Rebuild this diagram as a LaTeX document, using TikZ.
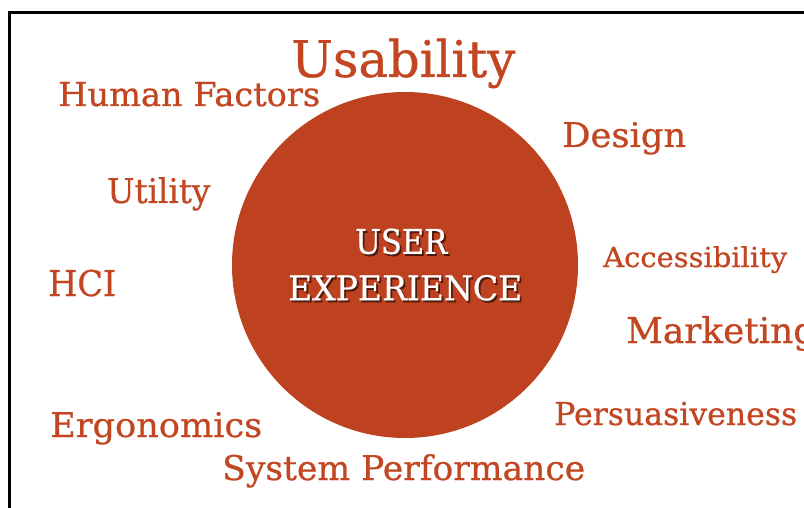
\documentclass[tikz,border=0pt]{standalone}
\usepackage{fontspec}
\setmainfont[FakeBold=0.7]{DejaVu Serif}
\usepackage{graphicx}
\definecolor{ux}{RGB}{194,70,33}
\definecolor{uxcircle}{RGB}{190,66,32}
\newcommand{\fitw}[3]{\resizebox{#1pt}{\height}{\fontsize{#2}{#2}\selectfont #3}}
\tikzset{
  lbl/.style={text=ux, inner sep=0pt, anchor=base west},
  wlbl/.style={text=white, inner sep=0pt, anchor=base west},
  shlbl/.style={text=black, opacity=0.55, inner sep=0pt, anchor=base west},
  frame/.style={line width=2.8pt, draw=black},
}
\begin{document}
\begin{tikzpicture}[x=1pt,y=-1pt]
\useasboundingbox (0,0) rectangle (804,508);
\fill[white] (0,0) rectangle (804,508);
% frame (only top and left edges visible)
\coordinate (ftl) at (9.8,12.4);
\coordinate (ftr) at (810,12.4);
\coordinate (fbl) at (9.8,515);
\draw[frame, line cap=rect] (ftr) -- (ftl) -- (fbl);
% circle
\node[circle, fill=uxcircle, minimum size=346pt, inner sep=0pt] (ux) at (405,265) {};
% centre text
\node[shlbl] (usersh) at (356.8,255.8) {\fitw{92}{34}{USER}};
\node[shlbl] (expsh) at (289.8,302.2) {\fitw{234}{34}{EXPERIENCE}};
\node[wlbl] (user) at (355,253.8) {\fitw{92}{34}{USER}};
\node[wlbl] (exp) at (288,300.2) {\fitw{234}{34}{EXPERIENCE}};
% labels
\node[lbl] (usab) at (291,77) {\fitw{224}{50.5}{Usability}};
\node[lbl] (hf) at (58,106) {\fitw{262}{33}{Human Factors}};
\node[lbl] (util) at (107,203) {\fitw{103}{34}{Utility}};
\node[lbl] (hci) at (48,296) {\fitw{68}{35.5}{HCI}};
\node[lbl] (ergo) at (50,437) {\fitw{212}{34}{Ergonomics}};
\node[lbl] (sysp) at (222,480) {\fitw{363}{34}{System Performance}};
\node[lbl] (des) at (562,147) {\fitw{124}{34}{Design}};
\node[lbl] (acc) at (603,267) {\fitw{184}{27.5}{Accessibility}};
\node[lbl] (mkt) at (626,343) {\fitw{190}{35.5}{Marketing}};
\node[lbl] (pers) at (554,425) {\fitw{243}{31.5}{Persuasiveness}};
\end{tikzpicture}
\end{document}
